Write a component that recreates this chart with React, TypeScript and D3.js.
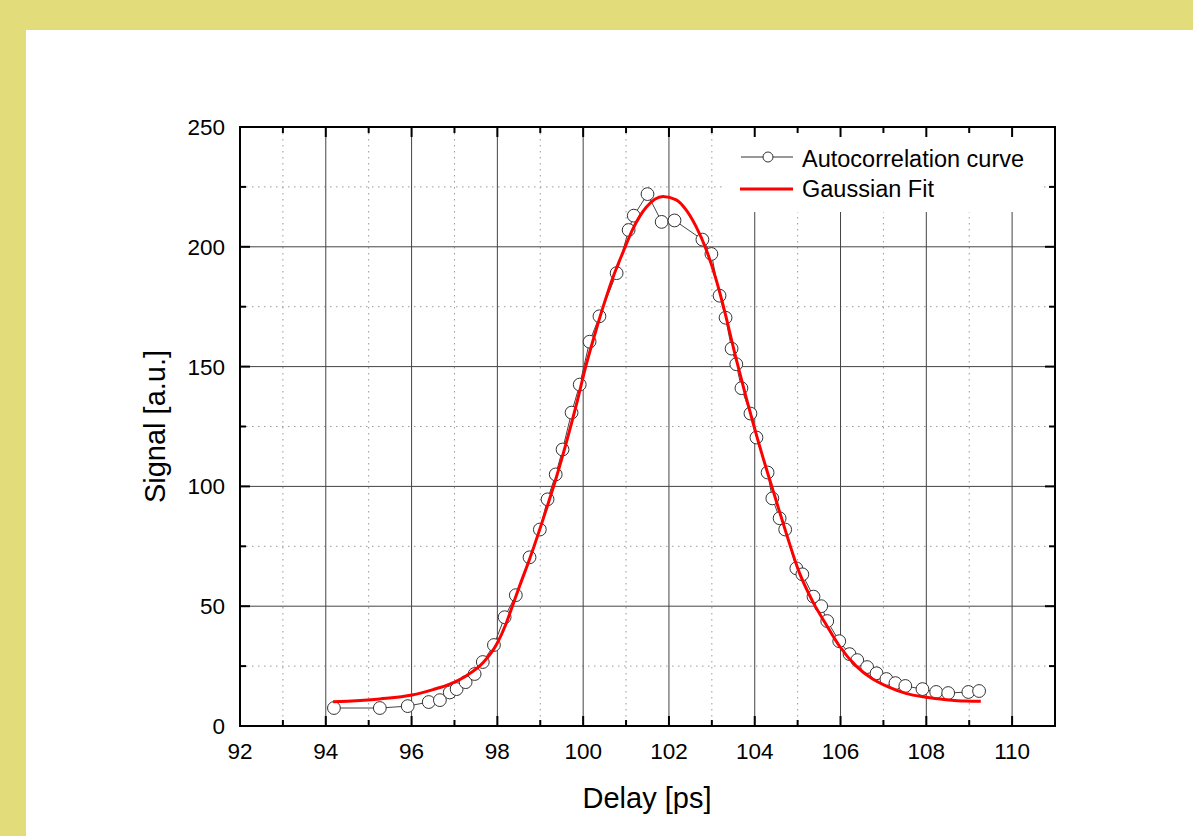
import React from "react";
import * as d3 from "d3";

// Autocorrelation measurement (Delay [ps], Signal [a.u.])
const measDelay = [
  94.19, 95.26, 95.91, 96.4, 96.66, 96.89, 97.05, 97.26, 97.47, 97.66, 97.92, 98.17, 98.43,
  98.75, 98.99, 99.17, 99.36, 99.52, 99.73, 99.92, 100.15, 100.38, 100.78, 101.06, 101.18,
  101.5, 101.83, 102.13, 102.78, 102.99, 103.18, 103.32, 103.46, 103.57, 103.69, 103.9,
  104.04, 104.3, 104.41, 104.58, 104.71, 104.97, 105.11, 105.37, 105.55, 105.69, 105.97,
  106.21, 106.39, 106.62, 106.84, 107.07, 107.28, 107.51, 107.91, 108.23, 108.51, 108.98, 109.23,
];
const measSignal = [
  7.5, 7.5, 8.3, 10, 10.8, 14, 15.4, 18.3, 21.7, 26.7, 33.8, 45.4, 54.6,
  70.4, 82, 94.6, 105, 115.4, 130.8, 142.5, 160.4, 171, 189, 207, 213,
  222, 210.4, 211, 203, 197, 179.6, 170.4, 157.5, 151, 141, 130.4,
  120.4, 105.8, 95, 86.7, 82, 65.8, 63.3, 54, 50, 43.8, 35.4,
  30, 27.5, 24.6, 22, 19.6, 17.9, 16.7, 15.4, 14.2, 13.75, 14.2, 14.6,
];

// Gaussian fit curve
const fitDelay = [
  94.17, 95.26, 96.01, 96.5, 96.89, 97.28, 97.67, 97.98, 98.21, 98.36, 98.52, 98.75, 99.14,
  99.37, 99.61, 99.84, 100.07, 100.31, 100.5, 100.69, 100.93, 101.16, 101.47, 101.86, 102.17,
  102.4, 102.63, 102.87, 103.1, 103.25, 103.57, 103.8, 104.03, 104.26, 104.5, 104.73,
  105.04, 105.35, 105.66, 105.97, 106.36, 106.75, 107.14, 107.52, 107.99, 108.46, 108.92, 109.27,
];
const fitSignal = [
  10.1, 11.3, 12.9, 15.2, 17.5, 21.0, 26.5, 34.0, 43.0, 50.5, 58.5, 69.6, 90.4,
  103.5, 118.5, 134.0, 150.7, 165.8, 176.9, 187.0, 197.8, 207.5, 216.5, 221.0, 219.6,
  215.4, 208.5, 198.8, 186.3, 176.5, 153.0, 137.0, 122.0, 108.0, 94.0, 80.7,
  64.0, 52.0, 42.5, 33.5, 25.1, 19.6, 16.1, 13.6, 12.0, 11.0, 10.4, 10.3,
];

const xMajorTicks = [92, 94, 96, 98, 100, 102, 104, 106, 108, 110];
const xMinorTicks = [93, 95, 97, 99, 101, 103, 105, 107, 109];
const yMajorTicks = [0, 50, 100, 150, 200, 250];
const yMinorTicks = [25, 75, 125, 175, 225];

const legendLabels = ["Autocorrelation curve", "Gaussian Fit"];
const xTitle = "Delay [ps]";
const yTitle = "Signal [a.u.]";

const W = 1193;
const H = 836;
const L = 240, R = 1055, T = 127, B = 726;
const FONT = "'Liberation Sans', Arial, sans-serif";

export default function App() {
  const x = d3.scaleLinear().domain([92, 111]).range([L, R]);
  const y = d3.scaleLinear().domain([0, 250]).range([B, T]);

  const meas = measDelay.map((d, i) => [d, measSignal[i]] as [number, number]);
  const fit = fitDelay.map((d, i) => [d, fitSignal[i]] as [number, number]);

  const lineGen = d3.line<[number, number]>().x((d) => x(d[0])).y((d) => y(d[1]));
  const fitGen = d3
    .line<[number, number]>()
    .x((d) => x(d[0]))
    .y((d) => y(d[1]))
    .curve(d3.curveMonotoneX);

  return (
    <svg
      width={W}
      height={H}
      style={{ position: "absolute", left: 0, top: 0, display: "block" }}
      fontFamily={FONT}
    >
      <rect x={0} y={0} width={W} height={H} fill="#E3DC7B" />
      <rect x={26} y={30} width={W - 26} height={H - 30} fill="#ffffff" />

      {/* minor grid */}
      {xMinorTicks.map((t) => (
        <line key={"xm" + t} x1={x(t)} x2={x(t)} y1={T} y2={B} stroke="#9a9a9a" strokeWidth={1} strokeDasharray="1.5 4.5" />
      ))}
      {yMinorTicks.map((t) => (
        <line key={"ym" + t} x1={L} x2={R} y1={y(t)} y2={y(t)} stroke="#9a9a9a" strokeWidth={1} strokeDasharray="1.5 4.5" />
      ))}
      {/* major grid */}
      {xMajorTicks.slice(1).map((t) => (
        <line key={"xg" + t} x1={x(t)} x2={x(t)} y1={T} y2={B} stroke="#444" strokeWidth={1} />
      ))}
      {yMajorTicks.slice(1, -1).map((t) => (
        <line key={"yg" + t} x1={L} x2={R} y1={y(t)} y2={y(t)} stroke="#444" strokeWidth={1} />
      ))}

      {/* legend background */}
      <rect x={722} y={T + 1} width={318} height={84} fill="#ffffff" />

      {/* measured data line + circles */}
      <path d={lineGen(meas) || ""} fill="none" stroke="#444" strokeWidth={1} />
      {meas.map((d, i) => (
        <circle key={"c" + i} cx={x(d[0])} cy={y(d[1])} r={6.4} fill="#ffffff" stroke="#333" strokeWidth={1} />
      ))}

      {/* fit */}
      <path d={fitGen(fit) || ""} fill="none" stroke="#ff0000" strokeWidth={3} />

      {/* frame */}
      <rect x={L} y={T} width={R - L} height={B - T} fill="none" stroke="#000" strokeWidth={2} />

      {/* ticks */}
      {xMajorTicks.map((t) => (
        <g key={"xt" + t}>
          <line x1={x(t)} x2={x(t)} y1={B} y2={B - 10} stroke="#000" strokeWidth={2} />
          <line x1={x(t)} x2={x(t)} y1={T} y2={T + 10} stroke="#000" strokeWidth={2} />
          <text x={x(t)} y={759} textAnchor="middle" fontSize={22.5} fill="#000">{t}</text>
        </g>
      ))}
      {xMinorTicks.map((t) => (
        <g key={"xmt" + t}>
          <line x1={x(t)} x2={x(t)} y1={B} y2={B - 6} stroke="#000" strokeWidth={2} />
          <line x1={x(t)} x2={x(t)} y1={T} y2={T + 6} stroke="#000" strokeWidth={2} />
        </g>
      ))}
      {yMajorTicks.map((t) => (
        <g key={"yt" + t}>
          <line x1={L} x2={L + 10} y1={y(t)} y2={y(t)} stroke="#000" strokeWidth={2} />
          <line x1={R} x2={R - 10} y1={y(t)} y2={y(t)} stroke="#000" strokeWidth={2} />
          <text x={225} y={y(t) + 8} textAnchor="end" fontSize={22.5} fill="#000">{t}</text>
        </g>
      ))}
      {yMinorTicks.map((t) => (
        <g key={"ymt" + t}>
          <line x1={L} x2={L + 6} y1={y(t)} y2={y(t)} stroke="#000" strokeWidth={2} />
          <line x1={R} x2={R - 6} y1={y(t)} y2={y(t)} stroke="#000" strokeWidth={2} />
        </g>
      ))}

      {/* legend */}
      <line x1={741} x2={793} y1={157} y2={157} stroke="#333" strokeWidth={1} />
      <circle cx={768} cy={157} r={5} fill="#fff" stroke="#333" strokeWidth={1} />
      <text x={802} y={167} fontSize={23.5} fill="#000">{legendLabels[0]}</text>
      <line x1={740} x2={793} y1={189} y2={189} stroke="#ff0000" strokeWidth={3} />
      <text x={802} y={197} fontSize={23.5} fill="#000">{legendLabels[1]}</text>

      {/* titles */}
      <text x={647} y={808} textAnchor="middle" fontSize={29} fill="#000">{xTitle}</text>
      <text
        transform={`translate(165, ${(T + B) / 2}) rotate(-90)`}
        textAnchor="middle"
        fontSize={29}
        fill="#000"
      >
        {yTitle}
      </text>
    </svg>
  );
}
